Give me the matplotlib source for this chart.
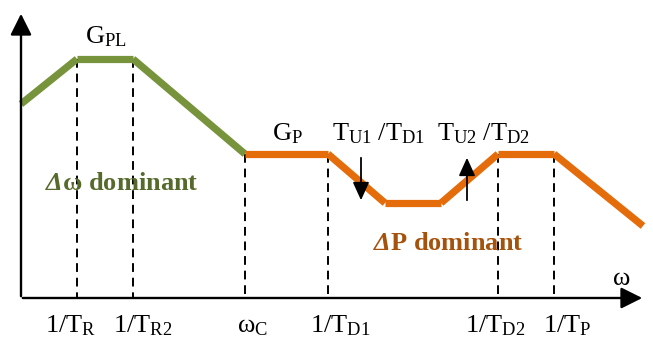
import matplotlib
matplotlib.use("Agg")
import matplotlib.pyplot as plt

plt.rcParams['mathtext.fontset'] = 'custom'
plt.rcParams['mathtext.rm'] = 'Liberation Serif'
plt.rcParams['mathtext.it'] = 'Liberation Serif:italic'
plt.rcParams['mathtext.bf'] = 'Liberation Serif:bold'
plt.rcParams['mathtext.bfit'] = 'Liberation Serif:bold:italic'
plt.rcParams['font.family'] = 'Liberation Serif'

# gain curve (sketch units, y grows downward)
green_x = [21, 77, 133, 245]
green_y = [104, 59, 59, 154]
orange_x = [245, 328, 385, 441, 498, 554, 643]
orange_y = [154, 154, 203, 203, 154, 154, 226]

# corner frequencies on the w axis
corner_x = [77, 133, 245, 328, 498, 554]
corner_top = [59, 59, 154, 154, 154, 154]
corner_labels = [r'$\mathrm{1/T_R}$', r'$\mathrm{1/T_{R2}}$', r'$\mathrm{\omega_C}$',
                 r'$\mathrm{1/T_{D1}}$', r'$\mathrm{1/T_{D2}}$', r'$\mathrm{1/T_P}$']
label_left = [45, 113, 237, 310, 465, 543]

axis_y = 298
green = '#77933C'
orange = '#E46C0A'

fig = plt.figure(figsize=(6.53, 3.38), dpi=100)
ax = fig.add_axes([0, 0, 1, 1])
ax.set_xlim(0, 653)
ax.set_ylim(338, 0)
ax.axis('off')

# axes with arrows
ax.annotate('', xy=(21, 11), xytext=(21, axis_y + 1),
            arrowprops=dict(arrowstyle='-|>,head_width=0.5,head_length=1.0', color='black',
                            lw=1.7, mutation_scale=13))
ax.annotate('', xy=(645, axis_y), xytext=(20, axis_y),
            arrowprops=dict(arrowstyle='-|>,head_width=0.5,head_length=1.0', color='black',
                            lw=1.7, mutation_scale=13))

# dashed verticals
for x, top in zip(corner_x, corner_top):
    ax.plot([x, x], [top, axis_y], color='black', lw=1.4, ls=(0, (4.5, 3)))

# curve segments
for i in range(len(green_x) - 1):
    ax.plot(green_x[i:i + 2], green_y[i:i + 2], color=green, lw=5.2, solid_capstyle='butt')
for i in range(len(orange_x) - 1):
    ax.plot(orange_x[i:i + 2], orange_y[i:i + 2], color=orange, lw=5.2, solid_capstyle='butt')

# arrows on the ramps
ax.annotate('', xy=(361, 203), xytext=(361, 155),
            arrowprops=dict(arrowstyle='-|>,head_width=0.5,head_length=1.1', color='black', lw=1.3))
ax.annotate('', xy=(467, 155), xytext=(467, 203),
            arrowprops=dict(arrowstyle='-|>,head_width=0.5,head_length=1.1', color='black', lw=1.3))

fs = 19
for lab, x in zip(corner_labels, label_left):
    ax.text(x, 332, lab, fontsize=fs, ha='left', va='baseline')

ax.text(612, 285, r'$\mathrm{\omega}$', fontsize=fs, ha='left', va='baseline')
ax.text(85, 43, r'$\mathrm{G_{PL}}$', fontsize=fs, ha='left', va='baseline')
ax.text(272, 140, r'$\mathrm{G_P}$', fontsize=fs, ha='left', va='baseline')
ax.text(332, 140, r'$\mathrm{T_{U1}\ /T_{D1}}$', fontsize=fs, ha='left', va='baseline')
ax.text(437, 140, r'$\mathrm{T_{U2}\ /T_{D2}}$', fontsize=fs, ha='left', va='baseline')
ax.text(45, 190, r'$\mathbfit{\Delta}\mathbf{\omega}$' + ' dominant', fontsize=fs,
        fontweight='bold', color='#566A2C', ha='left', va='baseline')
ax.text(373, 250, r'$\mathbfit{\Delta}\mathbf{P}$' + ' dominant', fontsize=fs,
        fontweight='bold', color='#A5520C', ha='left', va='baseline')

fig.savefig('out.png', dpi=100)
